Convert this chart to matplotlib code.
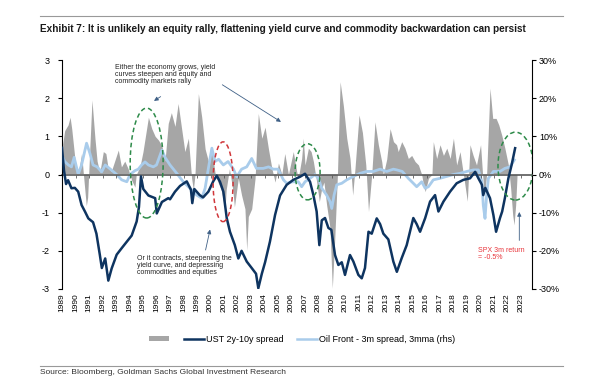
import matplotlib
matplotlib.use("Agg")
import matplotlib.pyplot as plt
from matplotlib.patches import Ellipse, Patch
from matplotlib.lines import Line2D

plt.rcParams['font.family'] = ['Liberation Sans', 'DejaVu Sans']

# UST 2y-10y spread (lhs)
ust_x = [1989.00, 1989.15, 1989.30, 1989.45, 1989.70, 1989.95, 1990.20, 1990.45, 1990.70, 1990.95,
         1991.30, 1991.55, 1991.80, 1991.95, 1992.20, 1992.43, 1992.68, 1993.05, 1993.42, 1993.80,
         1994.16, 1994.53, 1994.70, 1994.85, 1995.02, 1995.40, 1995.90, 1996.02, 1996.40, 1996.87,
         1997.00, 1997.37, 1997.74, 1998.24, 1998.55, 1998.65, 1998.80, 1999.20, 1999.45, 1999.84,
         2000.20, 2000.46, 2000.70, 2000.95, 2001.20, 2001.44, 2001.80, 2002.06, 2002.30, 2002.68,
         2003.05, 2003.37, 2003.54, 2003.80, 2004.04, 2004.40, 2004.78, 2005.15, 2005.64, 2006.13,
         2006.63, 2007.00, 2007.37, 2007.62, 2007.86, 2008.06, 2008.24, 2008.48, 2008.73, 2008.95,
         2009.22, 2009.47, 2009.72, 2009.96, 2010.33, 2010.58, 2010.95, 2011.20, 2011.44, 2011.70,
         2011.94, 2012.31, 2012.56, 2012.80, 2013.17, 2013.54, 2013.80, 2014.16, 2014.53, 2015.02,
         2015.27, 2015.52, 2015.90, 2016.26, 2016.63, 2016.88, 2017.25, 2017.74, 2018.23, 2018.73,
         2019.22, 2019.60, 2019.84, 2020.10, 2020.20, 2020.35, 2020.70, 2020.95, 2021.15, 2021.44,
         2021.60, 2021.80, 2022.06, 2022.30, 2022.56]
ust_y = [0.70, 0.10, -0.25, -0.15, -0.36, -0.35, -0.45, -0.80, -0.97, -1.15,
         -1.25, -1.55, -2.10, -2.45, -2.20, -2.78, -2.46, -2.10, -1.93, -1.76,
         -1.60, -1.23, -0.85, -0.05, -0.38, -0.55, -0.62, -1.02, -0.72, -0.62,
         -0.65, -0.45, -0.30, -0.18, -0.40, -0.75, -0.38, -0.54, -0.60, -0.45,
         -0.18, -0.03, -0.19, -0.45, -1.14, -1.50, -1.85, -2.20, -2.00, -2.28,
         -2.45, -2.60, -2.98, -2.60, -2.30, -1.76, -1.06, -0.55, -0.27, -0.14,
         -0.06, 0.02, -0.19, -0.54, -0.97, -1.85, -1.20, -1.14, -1.40, -1.45,
         -2.11, -2.37, -2.30, -2.63, -2.11, -2.28, -2.63, -2.72, -2.45, -1.50,
         -1.55, -1.15, -1.30, -1.55, -1.70, -2.28, -2.55, -2.19, -1.85, -1.14,
         -1.30, -1.50, -1.14, -0.71, -0.54, -0.97, -0.71, -0.45, -0.23, -0.14,
         -0.10, 0.07, -0.10, -0.27, -0.54, -0.35, -0.62, -1.06, -1.50, -1.14,
         -0.97, -0.62, -0.10, 0.25, 0.69]

# Oil front - 3m spread, 3mma (rhs, %)
oil_x = [1989.00, 1989.20, 1989.47, 1989.70, 1989.90, 1990.20, 1990.45, 1990.82, 1991.07, 1991.30,
         1991.60, 1991.94, 1992.20, 1992.55, 1993.05, 1993.42, 1993.80, 1994.04, 1994.40, 1994.65,
         1994.90, 1995.15, 1995.40, 1995.76, 1996.00, 1996.40, 1996.63, 1997.00, 1997.50, 1997.98,
         1998.48, 1998.98, 1999.35, 1999.60, 1999.84, 2000.10, 2000.33, 2000.60, 2000.95, 2001.30,
         2001.70, 2001.94, 2002.30, 2002.68, 2003.05, 2003.40, 2003.90, 2004.30, 2004.65, 2005.00,
         2005.40, 2005.64, 2006.10, 2006.50, 2006.75, 2007.00, 2007.37, 2007.74, 2007.99, 2008.24,
         2008.60, 2008.85, 2008.98, 2009.15, 2009.35, 2009.72, 2010.09, 2010.58, 2011.07, 2011.57,
         2012.06, 2012.56, 2013.05, 2013.54, 2013.80, 2014.20, 2014.65, 2015.02, 2015.27, 2015.64,
         2015.90, 2016.14, 2016.50, 2017.00, 2017.50, 2017.99, 2018.48, 2018.98, 2019.47, 2019.84,
         2020.10, 2020.20, 2020.33, 2020.45, 2020.58, 2020.95, 2021.44, 2021.80, 2022.18, 2022.50]
oil_y = [5.0, 3.4, 2.5, 2.0, 4.5, 0.0, 2.5, 8.2, 5.5, 2.5,
         2.0, 0.7, 2.5, 1.5, 0.0, -1.4, -1.9, 0.0, 1.0, 1.4,
         2.5, 3.3, 2.5, 2.0, 2.5, 6.4, 4.5, 2.5, 0.3, -1.9,
         -3.6, -5.4, -6.2, -3.6, 1.6, 6.9, 3.4, 4.0, 2.5, 3.4,
         1.4, -0.6, 1.4, 2.0, 4.2, 1.6, 1.6, 2.0, 1.4, 1.4,
         -1.4, -2.3, -1.9, -1.9, -3.2, -1.9, -1.0, 0.0, -1.0, -3.6,
         -5.4, -7.1, -8.9, -5.4, -2.7, -2.3, -1.4, -0.5, 0.3, 0.8,
         0.8, 1.4, 0.8, 1.4, 1.2, 0.8, -1.0, -2.3, -3.2, -1.9,
         -3.6, -3.2, -1.4, -1.0, -0.5, 0.0, 0.3, 0.8, 1.2, 1.2,
         -1.9, -8.0, -11.5, -5.4, -1.0, 0.8, 0.8, 1.6, 2.0, 3.8]

# SPX 3m return (grey area, %)
spx_x = [1989.05, 1989.20, 1989.45, 1989.60, 1989.72, 1989.96, 1990.20, 1990.45, 1990.60, 1990.80,
         1990.90, 1991.05, 1991.22, 1991.44, 1991.60, 1991.80, 1992.06, 1992.25, 1992.40, 1992.65,
         1992.90, 1993.17, 1993.40, 1993.65, 1993.90, 1994.16, 1994.40, 1994.50, 1994.77, 1995.00,
         1995.40, 1995.65, 1995.90, 1996.15, 1996.40, 1996.63, 1996.87, 1997.10, 1997.37, 1997.60,
         1997.86, 1998.10, 1998.36, 1998.60, 1998.73, 1998.85, 1999.10, 1999.35, 1999.60, 1999.84,
         2000.10, 2000.33, 2000.55, 2000.80, 2001.07, 2001.16, 2001.40, 2001.65, 2001.77, 2002.06,
         2002.30, 2002.55, 2002.68, 2002.80, 2003.05, 2003.30, 2003.54, 2003.80, 2004.04, 2004.30,
         2004.55, 2004.78, 2005.03, 2005.28, 2005.50, 2005.77, 2006.13, 2006.38, 2006.50, 2006.75,
         2006.87, 2007.00, 2007.25, 2007.45, 2007.62, 2007.86, 2008.06, 2008.24, 2008.40, 2008.60,
         2008.85, 2009.02, 2009.20, 2009.40, 2009.60, 2009.84, 2010.09, 2010.33, 2010.53, 2010.70,
         2011.00, 2011.25, 2011.50, 2011.70, 2011.94, 2012.18, 2012.43, 2012.68, 2012.80, 2013.05,
         2013.30, 2013.55, 2013.78, 2013.90, 2014.16, 2014.40, 2014.65, 2014.90, 2015.15, 2015.40,
         2015.64, 2015.77, 2015.90, 2016.14, 2016.40, 2016.50, 2016.75, 2017.00, 2017.25, 2017.50,
         2017.75, 2017.99, 2018.23, 2018.48, 2018.73, 2019.02, 2019.22, 2019.45, 2019.70, 2020.00,
         2020.15, 2020.28, 2020.45, 2020.70, 2020.90, 2021.15, 2021.35, 2021.57, 2021.80, 2022.06,
         2022.23, 2022.38, 2022.48, 2022.60, 2022.70]
spx_y = [8.0, 11.5, 13.0, 15.0, 12.0, 4.0, 0.0, 5.5, -0.5, -8.2,
         -6.0, 6.0, 19.5, 9.5, 3.5, 0.5, 6.0, 5.5, 2.0, 0.8,
         3.5, 6.4, 2.0, 3.5, 1.5, -1.5, -3.3, 0.0, 2.0, 6.0,
         15.0, 12.0, 10.0, 9.0, 7.5, 3.5, 13.4, 16.2, 12.6, 18.6,
         12.0, 6.0, 9.5, -1.0, -4.0, 0.0, 21.2, 15.0, 6.7, 3.5,
         6.5, 0.5, -2.0, -4.0, -9.3, -4.0, 1.5, -4.0, -8.5, -1.0,
         -5.4, -9.0, -19.8, -11.0, -9.0, -1.0, 16.0, 9.5, 12.4, 6.5,
         1.5, -2.0, 3.0, 0.0, 5.5, 0.0, 6.0, 0.8, -1.0, 4.2,
         9.5, 2.5, 6.9, 6.0, 3.4, -1.9, -7.1, -3.6, -2.0, -8.0,
         -14.0, -29.8, -17.0, 0.0, 24.3, 18.0, 9.5, 4.2, -5.4, 1.6,
         15.6, 11.0, 2.5, -9.7, 0.0, 13.8, 7.8, 3.4, 0.0, 4.0,
         12.0, 8.6, 7.8, 6.0, 8.6, 6.9, 4.2, 5.0, 3.4, 2.5,
         0.0, -2.7, -4.5, -1.0, 0.0, 8.6, 4.2, 7.8, 5.0, 6.9,
         4.2, 9.5, 2.5, 6.0, 0.0, -7.0, 7.8, 5.0, 2.5, 7.8,
         0.0, -5.4, 0.0, 22.6, 14.7, 14.7, 13.0, 10.3, 6.9, 2.5,
         -3.6, -10.6, -13.2, -8.0, -0.5]

years = list(range(1989, 2024))
lhs_ticks = [-3, -2, -1, 0, 1, 2, 3]
rhs_ticks = [-30, -20, -10, 0, 10, 20, 30]

navy = '#0E3460'
light = '#A9CCEB'
grey = '#A6A6A6'

fig = plt.figure(figsize=(5.92, 3.77), dpi=100)
ax = fig.add_axes([62 / 592, 1 - 289 / 377, 470 / 592, 229 / 377])
ax2 = ax.twinx()
ax.set_zorder(ax2.get_zorder() + 1)
ax.patch.set_visible(False)

ax2.fill_between(spx_x, spx_y, 0, color=grey, lw=0)
ax2.plot(oil_x, oil_y, color=light, lw=2.0)
ax.plot(ust_x, ust_y, color=navy, lw=1.8, zorder=4)

ax.set_xlim(1989.0, 2023.81)
ax.set_ylim(-3, 3)
ax2.set_ylim(-30, 30)

ax.set_yticks(lhs_ticks)
ax.set_yticklabels([str(t) for t in lhs_ticks])
ax2.set_yticks(rhs_ticks)
ax2.set_yticklabels(['%d%%' % t for t in rhs_ticks])
ax.set_xticks(years)
ax.set_xticklabels([str(y) for y in years], rotation=90)

for a in (ax, ax2):
    for s in a.spines.values():
        s.set_visible(False)
ax.spines['left'].set_visible(True)
ax.spines['left'].set_linewidth(0.8)
ax2.spines['right'].set_visible(True)
ax2.spines['right'].set_linewidth(0.8)
ax.tick_params(axis='y', length=3, width=0.8, labelsize=6.5, pad=6)
ax2.tick_params(axis='y', length=3, width=0.8, labelsize=6.5, pad=2)
ax.tick_params(axis='x', length=0, labelsize=6, pad=3)

# zero line with small year ticks
sec = ax.secondary_xaxis(0.5)
sec.set_alignment('bottom')
sec.set_xticks(years)
sec.set_xticklabels([])
sec.spines['bottom'].set_color('#595959')
sec.spines['bottom'].set_linewidth(1.2)
sec.tick_params(axis='x', length=2, width=0.6, color='#595959')

# ellipses
ax.add_patch(Ellipse((1995.27, 0.30), 2.44, 2.88, fill=False, ec='#2E8B4A', lw=1.1, ls=(0, (3, 2)), zorder=5))
ax.add_patch(Ellipse((2000.93, -0.19), 1.48, 2.09, fill=False, ec='#D0363A', lw=1.1, ls=(0, (3, 2)), zorder=5))
ax.add_patch(Ellipse((2007.19, 0.07), 1.85, 1.47, fill=False, ec='#2E8B4A', lw=1.1, ls=(0, (3, 2)), zorder=5))
ax.add_patch(Ellipse((2022.59, 0.22), 2.60, 1.78, fill=False, ec='#2E8B4A', lw=1.1, ls=(0, (3, 2)), zorder=5))

arrow = dict(arrowstyle='-|>', color='#3F6086', lw=0.6, mutation_scale=6)
ax.annotate('', xy=(1995.64, 1.89), xytext=(1996.48, 2.08), arrowprops=arrow, zorder=6)
ax.annotate('', xy=(2005.39, 1.34), xytext=(2000.70, 2.39), arrowprops=arrow, zorder=6)
ax.annotate('', xy=(2000.01, -1.37), xytext=(1999.59, -2.05), arrowprops=arrow, zorder=6)
ax.annotate('', xy=(2022.87, -0.91), xytext=(2022.87, -1.80), arrowprops=arrow, zorder=6)

ax.text(1992.93, 2.90, 'Either the economy grows, yield\ncurves steepen and equity and\ncommodity markets rally',
        fontsize=5, va='top', ha='left', color='#222222', linespacing=1.0, zorder=6)
ax.text(1994.56, -2.12, 'Or it contracts, steepening the\nyield curve, and depressing\ncommodities and equities',
        fontsize=5, va='top', ha='left', color='#222222', linespacing=1.0, zorder=6)
ax.text(2019.81, -1.90, 'SPX 3m return\n= -0.5%', fontsize=5, va='top', ha='left',
        color='#E8343A', linespacing=1.0, zorder=6)

# legend
handles = [Patch(color=grey, lw=0),
           Line2D([], [], color=navy, lw=1.8),
           Line2D([], [], color=light, lw=1.8)]
fig.legend(handles, ['', 'UST 2y-10y spread', 'Oil Front - 3m spread, 3mma (rhs)'],
           loc='center', bbox_to_anchor=(0.51, 1 - 339 / 377), ncol=3, frameon=False,
           fontsize=6.5, handlelength=2.2, handleheight=0.5, columnspacing=1.5, handletextpad=0.2)

# title and rules
fig.add_artist(Line2D([40 / 592, 563 / 592], [1 - 16 / 377, 1 - 16 / 377], color='#999999', lw=0.8))
fig.add_artist(Line2D([40 / 592, 563 / 592], [1 - 366 / 377, 1 - 366 / 377], color='#999999', lw=0.8))
fig.text(40 / 592, 1 - 29 / 377,
         'Exhibit 7: It is unlikely an equity rally, flattening yield curve and commodity backwardation can persist',
         fontsize=7.2, fontweight='bold', va='center', ha='left', color='#1a1a1a')
fig.text(40 / 592, 1 - 376 / 377, 'Source: Bloomberg, Goldman Sachs Global Investment Research',
         fontsize=6, va='bottom', ha='left', color='#333333')

fig.savefig('out.png', dpi=100)
